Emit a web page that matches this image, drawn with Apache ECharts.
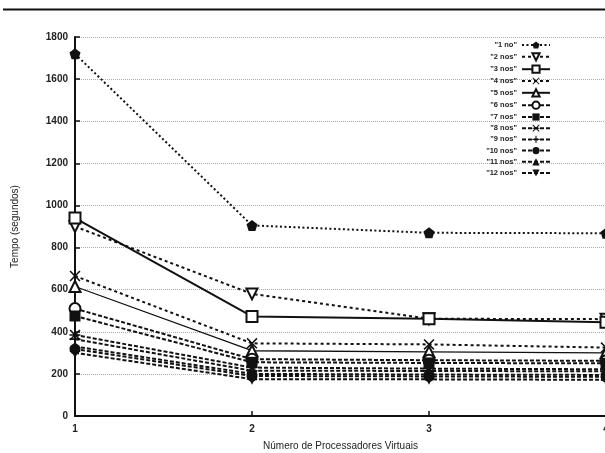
<!DOCTYPE html>
<html>
<head>
<meta charset="utf-8">
<script src="https://cdn.jsdelivr.net/npm/echarts@6/dist/echarts.min.js"></script>
<style>
  html, body { margin: 0; padding: 0; background: #fff; }
  #chart { width: 605px; height: 453px; }
</style>
</head>
<body>
<div id="chart"></div>
<script>
  // processadores virtuais (eixo x)
  const procs = [1, 2, 3, 4]
  const yTicks = [0, 200, 400, 600, 800, 1000, 1200, 1400, 1600, 1800]

  // tempo (segundos) por numero de nos
  const nos1 = [1720, 905, 870, 868]
  const nos2 = [900, 580, 462, 460]
  const nos3 = [940, 473, 462, 445]
  const nos4 = [665, 345, 340, 325]
  const nos5 = [615, 310, 305, 300]
  const nos6 = [510, 270, 265, 262]
  const nos7 = [475, 255, 252, 250]
  const nos8 = [385, 230, 225, 222]
  const nos9 = [365, 215, 214, 212]
  const nos10 = [318, 190, 188, 186]
  const nos11 = [330, 200, 197, 195]
  const nos12 = [300, 175, 174, 172]

  const names = ['"1 no"', '"2 nos"', '"3 nos"', '"4 nos"', '"5 nos"', '"6 nos"',
    '"7 nos"', '"8 nos"', '"9 nos"', '"10 nos"', '"11 nos"', '"12 nos"']
  const values = [nos1, nos2, nos3, nos4, nos5, nos6, nos7, nos8, nos9, nos10, nos11, nos12]

  const pentagon = 'path://M0,-1 L0.951,-0.309 L0.588,0.809 L-0.588,0.809 L-0.951,-0.309 Z'
  const cross = 'path://M-1,-0.8 L-0.8,-1 L0,-0.2 L0.8,-1 L1,-0.8 L0.2,0 L1,0.8 L0.8,1 L0,0.2 L-0.8,1 L-1,0.8 L-0.2,0 Z'
  const plus = 'path://M-0.15,-1 L0.15,-1 L0.15,-0.15 L1,-0.15 L1,0.15 L0.15,0.15 L0.15,1 L-0.15,1 L-0.15,0.15 L-1,0.15 L-1,-0.15 L-0.15,-0.15 Z'
  const star = 'path://M-1,-0.8 L-0.8,-1 L0,-0.2 L0.8,-1 L1,-0.8 L0.2,0 L1,0.8 L0.8,1 L0,0.2 L-0.8,1 L-1,0.8 L-0.2,0 Z M-1,-0.14 L1,-0.14 L1,0.14 L-1,0.14 Z'

  // simbolo, preenchido?, rotacao, tipo de linha, largura
  const styles = [
    { symbol: pentagon, fill: true, rot: 0, type: [2, 2.5], width: 2 },
    { symbol: 'triangle', fill: false, rot: 180, type: [3, 3], width: 2 },
    { symbol: 'rect', fill: false, rot: 0, type: 'solid', width: 2 },
    { symbol: cross, fill: true, rot: 0, type: [3, 3], width: 2 },
    { symbol: 'triangle', fill: false, rot: 0, type: 'solid', width: 1.3 },
    { symbol: 'circle', fill: false, rot: 0, type: [4, 2], width: 2 },
    { symbol: 'rect', fill: true, rot: 0, type: [4, 2], width: 2 },
    { symbol: star, fill: true, rot: 0, type: [4, 2], width: 2 },
    { symbol: plus, fill: true, rot: 0, type: [4, 2], width: 2 },
    { symbol: 'circle', fill: true, rot: 0, type: [4, 2], width: 2 },
    { symbol: 'triangle', fill: true, rot: 0, type: [4, 2], width: 2 },
    { symbol: 'triangle', fill: true, rot: 180, type: [4, 2], width: 2 }
  ]

  const ink = '#111'

  const series = values.map(function(v, i) {
    const st = styles[i]
    return {
      name: names[i],
      type: 'line',
      data: procs.map(function(p, j) { return [p, v[j]] }),
      symbol: st.symbol,
      symbolSize: 11,
      symbolRotate: st.rot,
      showAllSymbol: true,
      animation: false,
      lineStyle: { color: ink, width: st.width, type: st.type },
      itemStyle: {
        color: st.fill ? ink : '#fff',
        borderColor: ink,
        borderWidth: st.fill ? 0 : 2
      }
    }
  })

  const chart = echarts.init(document.getElementById('chart'))
  chart.setOption({
    backgroundColor: '#fff',
    textStyle: { fontFamily: 'Liberation Sans, Arial, sans-serif', color: '#222' },
    grid: { left: 75, right: -1, top: 37, bottom: 37, outerBoundsMode: 'none', containLabel: false },
    legend: {
      orient: 'vertical',
      align: 'right',
      right: 54,
      top: 41,
      padding: 0,
      itemWidth: 28,
      itemHeight: 9,
      itemGap: 3.2,
      itemTextGap: 3,
      textStyle: { fontSize: 7.5, fontWeight: 'bold', color: '#222' },
      data: names
    },
    xAxis: {
      type: 'value',
      min: procs[0],
      max: procs[procs.length - 1],
      interval: 1,
      name: 'Número de Processadores Virtuais',
      nameLocation: 'middle',
      nameGap: 25,
      nameTextStyle: { fontSize: 10, color: '#222' },
      axisLine: { lineStyle: { color: ink, width: 2 } },
      axisTick: { inside: true, length: 5, lineStyle: { color: ink, width: 1.5 } },
      axisLabel: { fontSize: 10, fontWeight: 'bold', color: '#222', margin: 8 },
      splitLine: { show: false }
    },
    yAxis: {
      type: 'value',
      min: yTicks[0],
      max: yTicks[yTicks.length - 1],
      interval: 200,
      name: 'Tempo (segundos)',
      nameLocation: 'middle',
      nameGap: 55,
      nameTextStyle: { fontSize: 10, color: '#222' },
      axisLine: { show: true, lineStyle: { color: ink, width: 2 } },
      axisTick: { show: true, inside: true, length: 5, lineStyle: { color: ink, width: 1.5 } },
      axisLabel: {
        fontSize: 10, fontWeight: 'bold', color: '#222', margin: 7,
        formatter: function(v) { return String(v) }
      },
      splitLine: { lineStyle: { color: '#aaa', width: 1, type: [1, 1] } }
    },
    graphic: [{
      type: 'line',
      shape: { x1: 3, y1: 9.5, x2: 605, y2: 9.5 },
      style: { stroke: ink, lineWidth: 2 }
    }],
    series: series
  })
</script>
</body>
</html>
